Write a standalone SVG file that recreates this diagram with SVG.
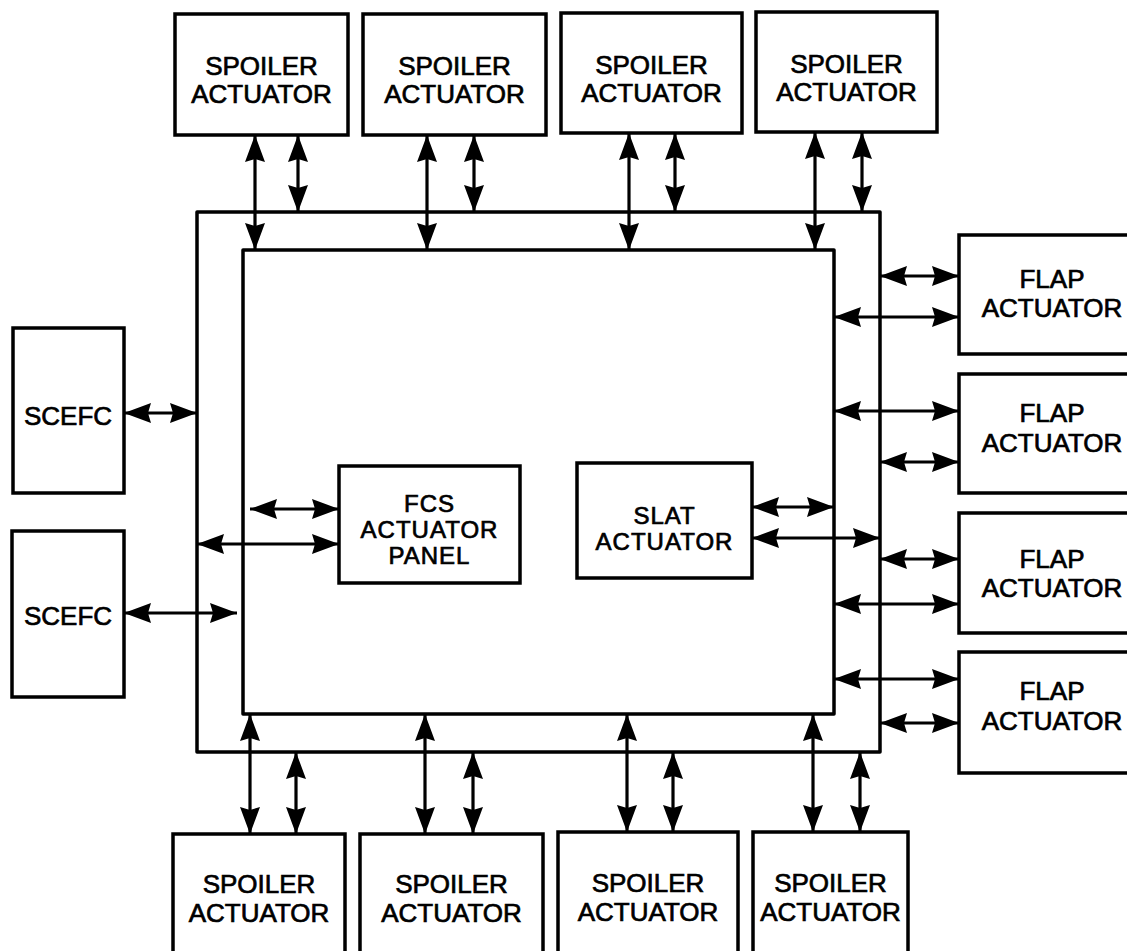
<svg xmlns="http://www.w3.org/2000/svg" width="1127" height="951" viewBox="0 0 1127 951">
<style>
.box{fill:#fff;stroke:#000;stroke-width:3.5}
.frame{fill:none;stroke:#000;stroke-width:3.5;stroke-linejoin:round}
.ln{stroke:#000;stroke-width:3.2;fill:none;marker-start:url(#ah);marker-end:url(#ah)}
text{font-family:"Liberation Sans",Arial,Helvetica,sans-serif;font-size:26px;fill:#000;stroke:#000;stroke-width:0.7;text-anchor:middle}
text.sm{font-size:24px;letter-spacing:1px}
</style>
<defs>
<marker id="ah" markerUnits="userSpaceOnUse" markerWidth="28" markerHeight="20" refX="27" refY="10" orient="auto-start-reverse" viewBox="0 0 28 20">
<path d="M0,0 L27,10 L0,20 L3,10 Z" fill="#000"/>
</marker>
</defs>
<rect width="1127" height="951" fill="#fff"/>
<g id="frame">
<rect class="frame" x="197" y="212" width="683" height="540"/>
<rect class="frame" x="243" y="250" width="591" height="464"/>
</g>
<g id="connectors">
<line class="ln" x1="255" y1="135" x2="255" y2="250"/>
<line class="ln" x1="298" y1="135" x2="298" y2="212"/>
<line class="ln" x1="427" y1="135" x2="427" y2="250"/>
<line class="ln" x1="474" y1="135" x2="474" y2="212"/>
<line class="ln" x1="629" y1="133" x2="629" y2="250"/>
<line class="ln" x1="675" y1="133" x2="675" y2="212"/>
<line class="ln" x1="815" y1="132" x2="815" y2="250"/>
<line class="ln" x1="862" y1="132" x2="862" y2="212"/>
<line class="ln" x1="250" y1="714" x2="250" y2="834"/>
<line class="ln" x1="296" y1="752" x2="296" y2="834"/>
<line class="ln" x1="425" y1="714" x2="425" y2="834"/>
<line class="ln" x1="473" y1="752" x2="473" y2="834"/>
<line class="ln" x1="627" y1="714" x2="627" y2="832"/>
<line class="ln" x1="673" y1="752" x2="673" y2="832"/>
<line class="ln" x1="813" y1="714" x2="813" y2="832"/>
<line class="ln" x1="860" y1="752" x2="860" y2="832"/>
<line class="ln" x1="880" y1="276" x2="959" y2="276"/>
<line class="ln" x1="834" y1="317" x2="959" y2="317"/>
<line class="ln" x1="834" y1="411" x2="959" y2="411"/>
<line class="ln" x1="880" y1="462" x2="959" y2="462"/>
<line class="ln" x1="880" y1="559" x2="959" y2="559"/>
<line class="ln" x1="834" y1="604" x2="959" y2="604"/>
<line class="ln" x1="834" y1="679" x2="959" y2="679"/>
<line class="ln" x1="880" y1="723" x2="959" y2="723"/>
<line class="ln" x1="752" y1="507" x2="834" y2="507"/>
<line class="ln" x1="752" y1="538" x2="880" y2="538"/>
<line class="ln" x1="250" y1="509" x2="339" y2="509"/>
<line class="ln" x1="197" y1="544" x2="339" y2="544"/>
<line class="ln" x1="124" y1="413" x2="197" y2="413"/>
<line class="ln" x1="124" y1="613" x2="237" y2="613"/>
</g>
<g id="spoiler-t1"><rect class="box" x="175" y="14" width="173" height="121"/><text x="261.5" y="75">SPOILER</text><text x="261.5" y="103">ACTUATOR</text></g>
<g id="spoiler-t2"><rect class="box" x="363" y="14" width="183" height="121"/><text x="454.5" y="75">SPOILER</text><text x="454.5" y="103">ACTUATOR</text></g>
<g id="spoiler-t3"><rect class="box" x="561" y="13" width="181" height="120"/><text x="651.5" y="74">SPOILER</text><text x="651.5" y="102">ACTUATOR</text></g>
<g id="spoiler-t4"><rect class="box" x="756" y="12" width="181" height="120"/><text x="846.5" y="73">SPOILER</text><text x="846.5" y="101">ACTUATOR</text></g>
<g id="spoiler-b1"><rect class="box" x="173" y="834" width="172" height="140"/><text x="259" y="893">SPOILER</text><text x="259" y="922">ACTUATOR</text></g>
<g id="spoiler-b2"><rect class="box" x="360" y="834" width="183" height="140"/><text x="451.5" y="893">SPOILER</text><text x="451.5" y="922">ACTUATOR</text></g>
<g id="spoiler-b3"><rect class="box" x="558" y="832" width="180" height="140"/><text x="648" y="892">SPOILER</text><text x="648" y="921">ACTUATOR</text></g>
<g id="spoiler-b4"><rect class="box" x="753" y="832" width="155" height="140"/><text x="830.5" y="892">SPOILER</text><text x="830.5" y="921">ACTUATOR</text></g>
<g id="flap1"><rect class="box" x="959" y="235" width="190" height="119"/><text x="1052" y="288">FLAP</text><text x="1052" y="317">ACTUATOR</text></g>
<g id="flap2"><rect class="box" x="959" y="374" width="190" height="119"/><text x="1052" y="422">FLAP</text><text x="1052" y="452">ACTUATOR</text></g>
<g id="flap3"><rect class="box" x="959" y="513" width="190" height="120"/><text x="1052" y="568">FLAP</text><text x="1052" y="597">ACTUATOR</text></g>
<g id="flap4"><rect class="box" x="959" y="652" width="190" height="121"/><text x="1052" y="700">FLAP</text><text x="1052" y="730">ACTUATOR</text></g>
<g id="scefc1"><rect class="box" x="13" y="328" width="111" height="165"/><text x="68" y="425">SCEFC</text></g>
<g id="scefc2"><rect class="box" x="12" y="531" width="112" height="166"/><text x="68" y="625">SCEFC</text></g>
<g id="fcs-panel"><rect class="box" x="339" y="466" width="181" height="117"/><text class="sm" x="429.5" y="512">FCS</text><text class="sm" x="429.5" y="538">ACTUATOR</text><text class="sm" x="429.5" y="564">PANEL</text></g>
<g id="slat"><rect class="box" x="577" y="463" width="175" height="115"/><text class="sm" x="664.5" y="524">SLAT</text><text class="sm" x="664.5" y="550">ACTUATOR</text></g>
</svg>
